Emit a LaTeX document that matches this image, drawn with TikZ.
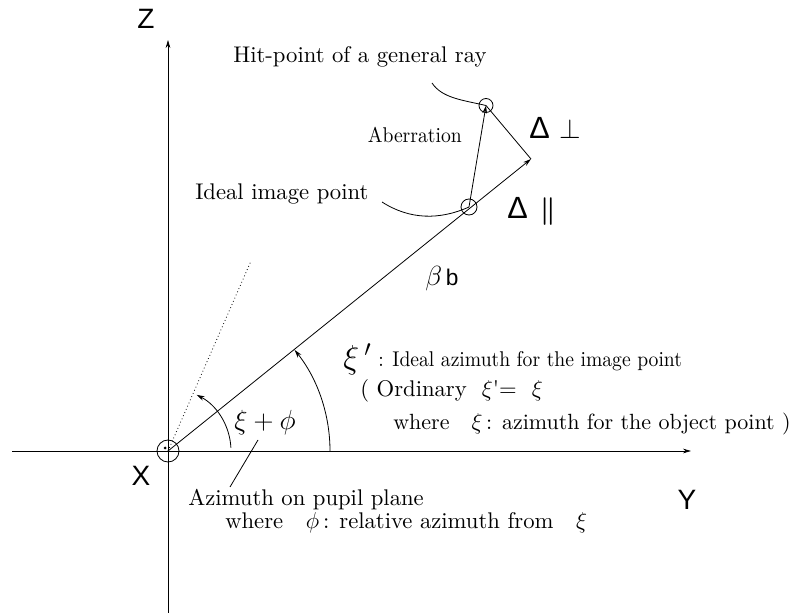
\documentclass[tikz,border=0pt]{standalone}
\usepackage{amsmath}
\usepackage{amssymb}
\usepackage{fontspec}
\newfontfamily\axisfont{Liberation Sans}
\newfontfamily\labelfont{lmroman10-regular.otf}
\newfontfamily\narrowfont{lmroman10-regular.otf}[FakeStretch=0.92]
\usetikzlibrary{calc, arrows.meta}

\tikzset{
    thinline/.style={line width=0.6pt},
    vec/.style={thinline, -{Stealth[length=6pt, width=3.5pt]}},
    ring/.style={draw, circle, thinline, inner sep=0pt},
    txt/.style={font=\labelfont\fontsize{17}{20}\selectfont, inner sep=0pt},
    txtnarrow/.style={font=\narrowfont\fontsize{16}{20}\selectfont, inner sep=0pt},
    axlabel/.style={font=\axisfont\fontsize{21}{24}\selectfont, inner sep=0pt},
    dlabel/.style={font=\axisfont\fontsize{17}{18}\selectfont, inner sep=0pt},
}

\begin{document}
\begin{tikzpicture}[x=0.75pt, y=-0.75pt]
    \useasboundingbox (0,0) rectangle (801,613);

    % 1. Origin, ideal image point and hit-point
    \node[ring, minimum size=16.5pt] (O) at (168,451) {};
    \node[ring, minimum size=12pt] (I) at (469,207) {};
    \node[ring, minimum size=10.5pt] (H) at (486,105.5) {};
    \coordinate (D) at (531,159);
    \fill (165,448) circle (1.5);

    % 2. The axes
    \coordinate (Zbot) at (168,613);
    \coordinate (Ztop) at (168,40);
    \coordinate (Yleft) at (12,451);
    \coordinate (Yend) at (691,451);
    \draw[vec] (Zbot) -- (Ztop);
    \draw[vec] (Yleft) -- (Yend);
    \node[axlabel] (Zl) at (146,19) {Z};
    \node[axlabel] (Xl) at (141,476) {X};
    \node[axlabel] (Yl) at (687,500) {Y};

    % 3. Ideal direction, aberration and its components
    \draw[vec] (O.center) -- (D);
    \draw[vec] (I.center) -- (H.center);
    \draw[thinline] (H.center) -- (D);
    \coordinate (Dot) at ($(O.center) + (-66.4:206)$);
    \draw[thinline, dotted] (O.center) -- (Dot);

    % 4. The two azimuth arcs
    \draw[vec] (O.center) ++(0:162) arc (0:-38.6:162);
    \draw[vec] (O.center) ++(-3:63) arc (-3:-63:63);
    \node[font=\fontsize{22}{24}\selectfont, inner sep=0pt] (xiphi) at (265,423) {$\xi+\phi$};

    % 5. Labels and their leaders
    \node[txt, anchor=base west] (hitl) at (233,63) {Hit-point of a general ray};
    \coordinate (hitleader) at (432,83);
    \draw[thinline] (hitleader) .. controls (442,98) and (462,100) .. (H.center);

    \node[txtnarrow, anchor=base east] (abl) at (462,143) {Aberration};

    \node[txt, anchor=base west] (idl) at (195,200) {Ideal image point};
    \coordinate (idleader) at (382,202);
    \draw[thinline] (idleader) .. controls (410,220) and (440,220) .. (I.center);

    \node[dlabel, anchor=base west] (dperp) at (529,139) {{\fontsize{23}{23}\selectfont Δ}\hspace{7pt}{\fontsize{20}{20}\selectfont$\perp$}};
    \node[dlabel, anchor=base west] (dpar) at (507,219) {{\fontsize{23}{23}\selectfont Δ}\hspace{9pt}{\fontsize{22}{22}\selectfont$\boldsymbol{\|}$}};
    \node[dlabel, anchor=base west] (bb) at (425,286) {{\fontsize{20}{20}\selectfont$\beta$}\,b};

    \node[font=\fontsize{24}{24}\selectfont, inner sep=0pt, anchor=base west] (xipr) at (343,369) {$\xi$\,$'$};
    \node[txtnarrow, anchor=base west] (xip1) at (378,367) {: Ideal azimuth for the image point};
    \node[txt, anchor=base west] (xip2) at (360,397) {( Ordinary\ \ $\xi$'=\ \ $\xi$};
    \node[txt, font=\labelfont\fontsize{16.5}{20}\selectfont, anchor=base west] (xip3) at (393,430) {where\ \ \ $\xi$\,: azimuth for the object point )};

    \node[txt, anchor=base west] (azl1) at (188,505) {Azimuth on pupil plane};
    \node[txt, anchor=base west] (azl2) at (225,528) {where\ \ \ $\phi$\,: relative azimuth from\ \ \ $\xi$};
    \coordinate (azleadtop) at (258,440);
    \coordinate (azleadbot) at (230,487);
    \draw[thinline] (azleadtop) -- (azleadbot);

\end{tikzpicture}
\end{document}
